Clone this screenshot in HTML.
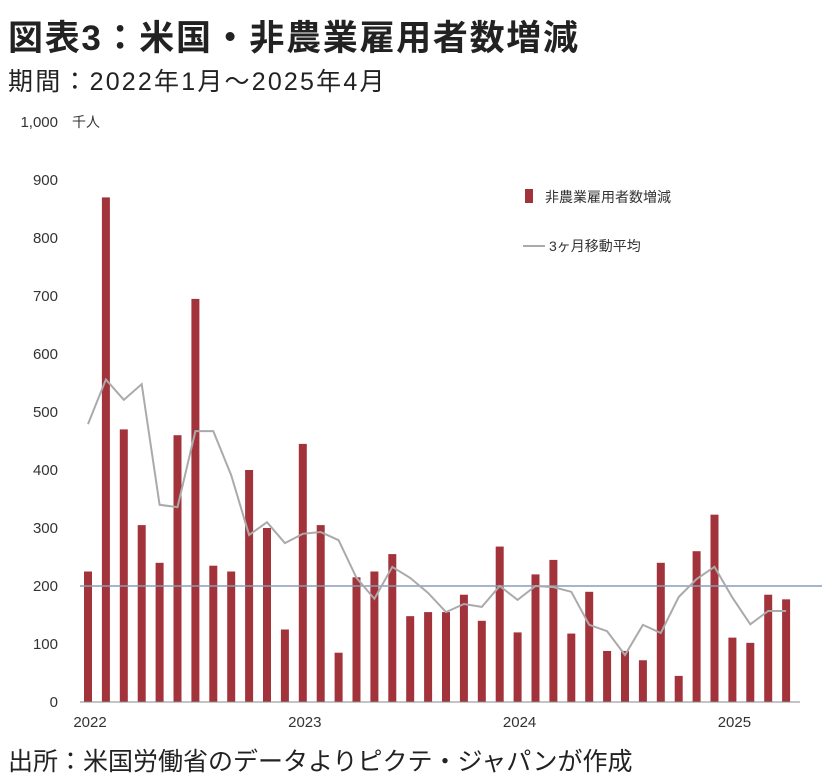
<!DOCTYPE html>
<html><head><meta charset="utf-8"><style>
body{margin:0;background:#fff;width:838px;height:784px;overflow:hidden;font-family:"Liberation Sans","Noto Sans CJK JP",sans-serif;}
.t{position:absolute;left:8px;top:10px;font-size:35px;font-weight:bold;color:#222;letter-spacing:1.7px;white-space:nowrap}
.s{position:absolute;left:8px;top:62px;font-size:25px;color:#222;letter-spacing:2.2px;white-space:nowrap}
.f{position:absolute;left:8px;top:742px;font-size:25px;color:#222;letter-spacing:0px;white-space:nowrap}
svg{position:absolute;left:0;top:0}
</style></head><body>
<div class="t">図表3：米国・非農業雇用者数増減</div>
<div class="s">期間：2022年1月～2025年4月</div>
<div class="f">出所：米国労働省のデータよりピクテ・ジャパンが作成</div>
<svg id="c" width="838" height="784"></svg>
<script>
const categories=[];for(let y=2022;y<=2025;y++)for(let m=1;m<=12;m++)if(!(y===2025&&m>4))categories.push(y+'-'+m);
const payrolls=[225,870,470,305,240,460,695,235,225,400,300,125,445,305,85,215,225,255,148,155,155,185,140,268,120,220,245,118,190,88,88,72,240,45,260,323,111,102,185,177];
const movingAvg=[479,556,521,548,340,336,467,467,391,288,310,274,290,293,279,214,178,233,214,188,155,169,164,200,176,200,198,190,133,122,81,133,119,181,212,233,180,134,157,157];
const yTicks=[0,100,200,300,400,500,600,700,800,900,1000];
const yTickLabels=['0','100','200','300','400','500','600','700','800','900','1,000'];
const xLabels=[['2022',0],['2023',12],['2024',24],['2025',36]];
const refValue=200;
const NS='http://www.w3.org/2000/svg',svg=document.getElementById('c');
const y=v=>702-v*0.58, x=i=>88+i*17.9;
function mk(t,a,txt){const e=document.createElementNS(NS,t);for(const k in a)e.setAttribute(k,a[k]);if(txt!=null)e.textContent=txt;svg.appendChild(e);return e;}
yTicks.forEach((v,i)=>{const e=mk('text',{x:58,y:y(v)+5,'text-anchor':'end','font-size':15,fill:'#333'},yTickLabels[i]);

});
let u=mk('text',{x:72,y:127,'font-size':14,fill:'#333'},'千人');


payrolls.forEach((v,i)=>{const b=mk('rect',{x:x(i)-4,y:y(v),width:8,height:v*0.58,fill:'#a3333a'});

});
let rl=mk('line',{x1:80,x2:822,y1:y(refValue),y2:y(refValue),stroke:'#8a9bb8','stroke-width':1.5});


let ma=mk('polyline',{points:movingAvg.map((v,i)=>x(i)+','+y(v)).join(' '),fill:'none',stroke:'#aaa','stroke-width':2});


let ax=mk('line',{x1:80,x2:800,y1:702,y2:702,stroke:'#888','stroke-width':1});


xLabels.forEach(([t,i])=>{const e=mk('text',{x:x(i)+2,y:727,'text-anchor':'middle','font-size':15,fill:'#333'},t);

});
let l1=mk('rect',{x:525,y:189,width:8,height:14,fill:'#a3333a'});


let t1=mk('text',{x:545,y:202,'font-size':14,fill:'#333'},'非農業雇用者数増減');


let l2=mk('line',{x1:523,x2:545,y1:246,y2:246,stroke:'#aaa','stroke-width':2});


let t2=mk('text',{x:549,y:251,'font-size':14,fill:'#333'},'3ヶ月移動平均');


</script>
</body></html>
